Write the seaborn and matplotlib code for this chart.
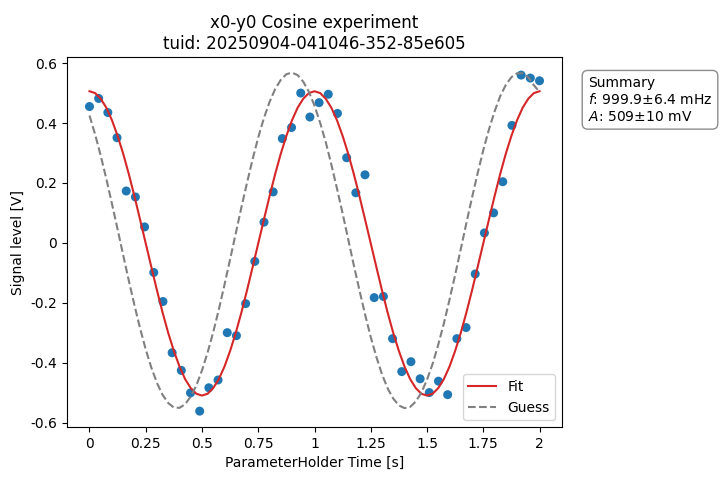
import numpy as np
import pandas as pd
import matplotlib
matplotlib.use("Agg")
import matplotlib.pyplot as plt
import seaborn as sns

# --- data -------------------------------------------------------------
time_s = [round(2 * i / 49, 4) for i in range(50)]  # sweep setpoints
signal_v = [0.455, 0.482, 0.435, 0.351, 0.173, 0.153, 0.053, -0.099, -0.196, -0.367,
            -0.426, -0.501, -0.562, -0.484, -0.458, -0.300, -0.310, -0.203, -0.062, 0.069,
            0.170, 0.348, 0.385, 0.500, 0.420, 0.468, 0.496, 0.432, 0.284, 0.167,
            0.227, -0.183, -0.179, -0.320, -0.430, -0.397, -0.454, -0.500, -0.462, -0.507,
            -0.320, -0.283, -0.104, 0.033, 0.100, 0.204, 0.392, 0.560, 0.550, 0.541]

curve_t = [round(0.025 * k, 3) for k in range(81)]
fit_half = [0.506, 0.500, 0.481, 0.451, 0.409, 0.357, 0.297, 0.229, 0.155, 0.077,
            -0.002, -0.081, -0.159, -0.233, -0.301, -0.361, -0.413, -0.455, -0.485, -0.504,
            -0.510, -0.504, -0.485, -0.455, -0.413, -0.361, -0.301, -0.233, -0.159, -0.081,
            -0.002, 0.077, 0.155, 0.229, 0.297, 0.357, 0.409, 0.451, 0.481, 0.500]
fit_v = fit_half + fit_half + [0.506]
guess_v = [0.425, 0.362, 0.291, 0.213, 0.130, 0.045, -0.042, -0.127, -0.209, -0.286,
           -0.356, -0.417, -0.468, -0.508, -0.535, -0.550, -0.551, -0.539, -0.513, -0.476,
           -0.426, -0.366, -0.298, -0.222, -0.140, -0.055, 0.031, 0.118, 0.200, 0.279,
           0.352, 0.416, 0.470, 0.513, 0.544, 0.563, 0.568, 0.560, 0.538, 0.504,
           0.458, 0.401, 0.336, 0.261, 0.181, 0.098, 0.011, -0.076, -0.159, -0.240,
           -0.315, -0.381, -0.439, -0.486, -0.520, -0.543, -0.552, -0.548, -0.530, -0.500,
           -0.457, -0.404, -0.340, -0.269, -0.190, -0.107, -0.021, 0.066, 0.151, 0.232,
           0.309, 0.378, 0.438, 0.489, 0.527, 0.553, 0.566, 0.566, 0.553, 0.526,
           0.504]

x_ticks = [0, 0.25, 0.5, 0.75, 1, 1.25, 1.5, 1.75, 2]
x_tick_labels = ["0", "0.25", "0.5", "0.75", "1", "1.25", "1.5", "1.75", "2"]
y_ticks = [-0.6, -0.4, -0.2, 0, 0.2, 0.4, 0.6]
y_tick_labels = ["-0.6", "-0.4", "-0.2", "0", "0.2", "0.4", "0.6"]

# --- plot -------------------------------------------------------------
plt.rcParams["font.family"] = ["DejaVu Sans"]
fig = plt.figure(figsize=(7.21, 4.80), dpi=100)
ax = fig.add_axes([0.0929, 0.1104, 0.6866, 0.7706])

pts = pd.DataFrame({"t": time_s, "v": signal_v})
curves = pd.DataFrame({"t": curve_t, "fit": fit_v, "guess": guess_v})

sns.scatterplot(data=pts, x="t", y="v", ax=ax, color="C0", s=42,
                edgecolor="none", zorder=2, legend=False)
sns.lineplot(data=curves, x="t", y="fit", ax=ax, color="C3", lw=1.5,
             label="Fit", zorder=3)
sns.lineplot(data=curves, x="t", y="guess", ax=ax, color="gray", lw=1.5,
             linestyle=(0, (3.7, 1.6)), label="Guess", zorder=3)

ax.set_xlim(-0.1, 2.1)
ax.set_ylim(-0.615, 0.62)
ax.set_xticks(x_ticks)
ax.set_xticklabels(x_tick_labels)
ax.set_yticks(y_ticks)
ax.set_yticklabels(y_tick_labels)
ax.set_xlabel("ParameterHolder Time [s]")
ax.set_ylabel("Signal level [V]")
ax.set_title("x0-y0 Cosine experiment\ntuid: 20250904-041046-352-85e605", fontsize=12)
ax.legend(loc="lower right")

ax.text(1.052, 0.949, "Summary\n$f$: 999.9±6.4 mHz\n$A$: 509±10 mV",
        transform=ax.transAxes, va="top", ha="left", fontsize=10,
        bbox=dict(boxstyle="round,pad=0.4", facecolor="white", edgecolor="gray", alpha=0.9))

fig.savefig("out.png", dpi=100)
